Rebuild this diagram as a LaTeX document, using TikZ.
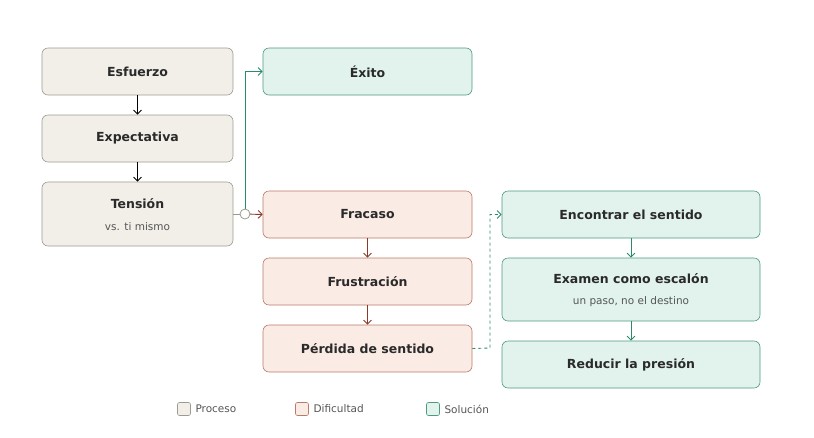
\documentclass[tikz,border=0pt]{standalone}
\usepackage{fontspec}
\setmainfont{DejaVu Sans}
\usetikzlibrary{arrows.meta}
\definecolor{pf}{HTML}{F2EFE9}\definecolor{pd}{HTML}{9E9A92}
\definecolor{df}{HTML}{FBEBE5}\definecolor{dd}{HTML}{B97A6A}
\definecolor{sf}{HTML}{E1F3EC}\definecolor{sd}{HTML}{4E9A80}
\definecolor{gl}{HTML}{2A8A6A}\definecolor{rl}{HTML}{8B3A2A}
\definecolor{tx}{HTML}{2A2A2A}\definecolor{st}{HTML}{555555}
\begin{document}
\begin{tikzpicture}[x=1pt,y=-1pt,
 box/.style={draw,rounded corners=6pt,line width=0.6pt,text=tx,font=\bfseries\fontsize{12.5}{15}\selectfont,align=center},
 pro/.style={box,fill=pf,draw=pd},
 dif/.style={box,fill=df,draw=dd},
 sol/.style={box,fill=sf,draw=sd},
 sub/.style={font=\fontsize{10.5}{13}\selectfont,text=st},
 arr/.style={-{Straight Barb[length=4pt,width=8pt]},line width=0.9pt},
 leg/.style={rounded corners=2pt,line width=0.6pt,minimum size=13pt,inner sep=0pt},
 legt/.style={font=\fontsize{10.5}{13}\selectfont,text=st,anchor=west}]
\useasboundingbox (0,0) rectangle (814,437);
\newcommand{\bx}[7]{\node[#1,minimum width=#4-#2,minimum height=#5-#3] (#6) at ({(#2+#4)/2},{(#3+#5)/2}) {#7};}
\bx{pro}{42}{48}{233}{95}{esf}{Esfuerzo}
\bx{pro}{42}{115}{233}{162}{exp}{Expectativa}
\node[pro,minimum width=191,minimum height=64] (ten) at (137.5,214) {};
\node[text=tx,font=\bfseries\fontsize{12.5}{15}\selectfont] (tent) at (137.5,204) {Tensión};
\node[sub] (tens) at (137.5,227) {vs. ti mismo};
\bx{sol}{263}{48}{472}{95}{exi}{Éxito}
\bx{dif}{263}{191}{472}{238}{fra}{Fracaso}
\bx{dif}{263}{258}{472}{305}{fru}{Frustración}
\bx{dif}{263}{325}{472}{372}{per}{Pérdida de sentido}
\bx{sol}{502}{191}{760}{238}{enc}{Encontrar el sentido}
\node[sol,minimum width=258,minimum height=63] (exa) at (631,289.5) {};
\node[text=tx,font=\bfseries\fontsize{12.5}{15}\selectfont] (exat) at (631,279) {Examen como escalón};
\node[sub] (exas) at (631,302) {un paso, no el destino};
\bx{sol}{502}{341}{760}{388}{red}{Reducir la presión}
\draw[arr,black] (esf) -- (exp);
\draw[arr,black] (exp) -- (ten);
\coordinate (j) at (245,214);
\draw[pd,line width=0.9pt] (ten.east) -- (j);
\draw[arr,gl] (j) |- (exi.west);
\draw[arr,rl] (j) -- (fra.west);
\draw[pd,line width=0.8pt,fill=white] (j) circle (5);
\draw[arr,rl] (fra) -- (fru);
\draw[arr,rl] (fru) -- (per);
\draw[arr,gl,dashed] (per.east) -- (490,348) |- (enc.west);
\draw[arr,gl] (enc) -- (exa);
\draw[arr,gl] (exa) -- (red);
\node[leg,fill=pf,draw=pd] (l1) at (184,409) {};
\node[legt] (l1t) at (192,409) {Proceso};
\node[leg,fill=df,draw=dd] (l2) at (302,409) {};
\node[legt] (l2t) at (310,409) {Dificultad};
\node[leg,fill=sf,draw=sd] (l3) at (433,409) {};
\node[legt] (l3t) at (441,409) {Solución};
\end{tikzpicture}
\end{document}
